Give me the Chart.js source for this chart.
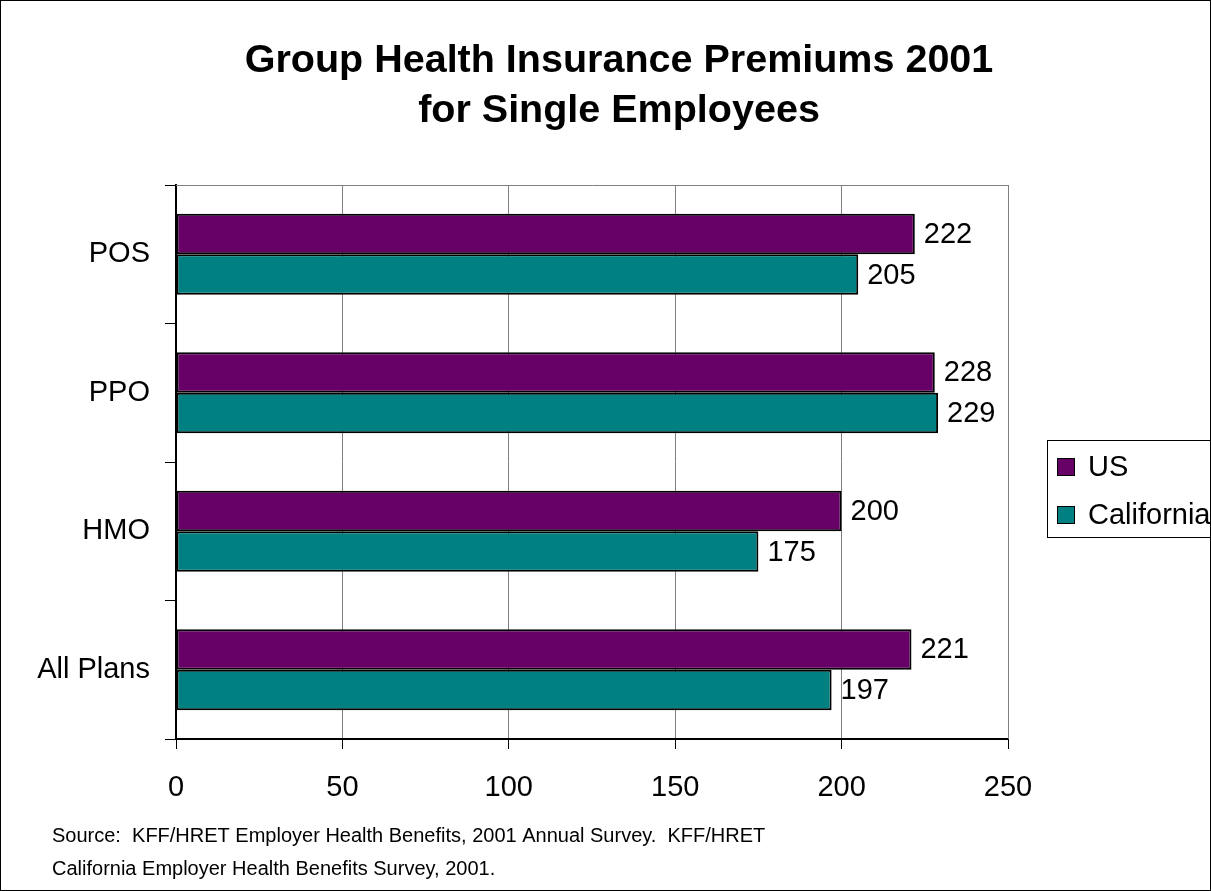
<!DOCTYPE html>
<html>
<head>
<meta charset="utf-8">
<script src="https://cdn.jsdelivr.net/npm/chart.js@4/dist/chart.umd.min.js"></script>
<style>
  html, body { margin: 0; padding: 0; background: #fff; }
  #wrap { width: 1211px; height: 891px; position: relative; }
</style>
</head>
<body>
<div id="wrap"><canvas id="myChart" width="1211" height="891"></canvas></div>
<script>
// Plan types, listed top to bottom
const plans = ['POS', 'PPO', 'HMO', 'All Plans'];
// Monthly premiums, single coverage
const usValues = [222, 228, 200, 221];
const caValues = [205, 229, 175, 197];
const xTicks = [0, 50, 100, 150, 200, 250];

const titleLines = ['Group Health Insurance Premiums 2001', 'for Single Employees'];
const sourceLines = [
    'Source:  KFF/HRET Employer Health Benefits, 2001 Annual Survey.  KFF/HRET',
    'California Employer Health Benefits Survey, 2001.'
];

const FONT = '"Liberation Sans", Arial, sans-serif';
const TEXT_SIZE = 29;

// Title, plot frame, value labels, legend box and source note
const extras = {
    id: 'extras',
    beforeDatasetsDraw(chart) {
        const a = chart.chartArea;
        const ctx = chart.ctx;
        ctx.save();
        ctx.strokeStyle = '#808080';
        ctx.lineWidth = 1;
        ctx.beginPath();
        ctx.moveTo(a.left, a.top + 0.5);
        ctx.lineTo(a.right + 0.5, a.top + 0.5);
        ctx.lineTo(a.right + 0.5, a.bottom);
        ctx.stroke();
        ctx.restore();
    },
    afterDraw(chart) {
        const ctx = chart.ctx;
        ctx.save();

        // outer frame
        ctx.strokeStyle = '#000';
        ctx.lineWidth = 1;
        ctx.strokeRect(0.5, 0.5, chart.width - 1, chart.height - 1);

        // title
        ctx.fillStyle = '#000';
        ctx.font = 'bold 39.5px ' + FONT;
        ctx.textAlign = 'center';
        ctx.textBaseline = 'alphabetic';
        ctx.fillText(titleLines[0], 619, 72);
        ctx.fillText(titleLines[1], 619, 122);

        // value labels at bar ends
        ctx.font = TEXT_SIZE + 'px ' + FONT;
        ctx.textAlign = 'left';
        ctx.textBaseline = 'middle';
        chart.data.datasets.forEach((ds, i) => {
            chart.getDatasetMeta(i).data.forEach((bar, j) => {
                ctx.fillText(String(ds.data[j]), bar.x + 9, bar.y + 1);
            });
        });

        // legend
        ctx.strokeStyle = '#000';
        ctx.strokeRect(1047.5, 440.5, 200, 97);
        chart.data.datasets.forEach((ds, i) => {
            const y = 467 + i * 48;
            ctx.fillStyle = ds.backgroundColor;
            ctx.fillRect(1057, y - 9, 18, 18);
            ctx.strokeRect(1057.5, y - 8.5, 17, 17);
            ctx.fillStyle = '#000';
            ctx.fillText(ds.label, 1088, y + 1);
        });

        // source note
        ctx.font = '20px ' + FONT;
        ctx.textBaseline = 'alphabetic';
        ctx.fillText(sourceLines[0], 52, 842);
        ctx.fillText(sourceLines[1], 52, 875);
        ctx.restore();
    }
};

const ctx = document.getElementById('myChart').getContext('2d');
const myChart = new Chart(ctx, {
    type: 'bar',
    data: {
        labels: plans,
        datasets: [
            { label: 'US', data: usValues, backgroundColor: '#660066' },
            { label: 'California', data: caValues, backgroundColor: '#008080' }
        ]
    },
    options: {
        indexAxis: 'y',
        responsive: false,
        animation: false,
        devicePixelRatio: 1,
        layout: { padding: { top: 185, right: 203, left: 0, bottom: 0 } },
        datasets: {
            bar: {
                borderColor: '#000',
                borderWidth: 2,
                borderSkipped: false,
                categoryPercentage: 0.585,
                barPercentage: 1
            }
        },
        plugins: {
            legend: { display: false },
            title: { display: false },
            tooltip: { enabled: false }
        },
        scales: {
            x: {
                min: 0,
                max: 250,
                afterBuildTicks(scale) {
                    scale.ticks = xTicks.map(v => ({ value: v }));
                },
                afterFit(scale) { scale.height = 891 - 739; },
                grid: { color: '#808080', lineWidth: 1, tickLength: 10, tickColor: '#000' },
                border: { color: '#000', width: 2 },
                ticks: { color: '#000', font: { family: FONT, size: TEXT_SIZE }, padding: 22 }
            },
            y: {
                afterFit(scale) { scale.width = 176; },
                grid: { drawOnChartArea: false, offset: true, tickLength: 11, tickColor: '#000' },
                border: { color: '#000', width: 2 },
                ticks: { color: '#000', font: { family: FONT, size: TEXT_SIZE }, padding: 15 }
            }
        }
    },
    plugins: [extras]
});
</script>
</body>
</html>
